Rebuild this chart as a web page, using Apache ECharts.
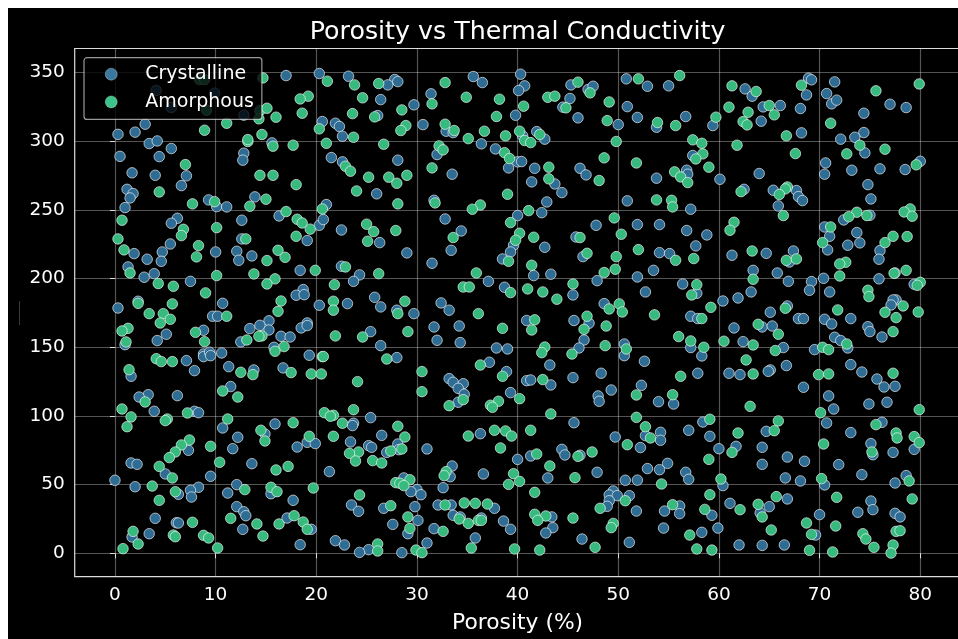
<!DOCTYPE html>
<html>
<head>
<meta charset="utf-8">
<title>Porosity vs Thermal Conductivity</title>
<script src="https://cdn.jsdelivr.net/npm/echarts@6/dist/echarts.min.js"></script>
<style>
html,body{background:#fff;margin:0;padding:0;width:958px;height:639px;overflow:hidden;}
#chart{position:absolute;left:8px;top:8px;width:950px;height:631px;background:#000;}
</style>
</head>
<body>
<div id="chart"></div>
<script>
const xTicks = [0,10,20,30,40,50,60,70,80];
const yTicks = [0,50,100,150,200,250,300,350];
const seriesNames = ['Crystalline','Amorphous'];

const crystalline = [
[17.0,347.8],[20.3,349.3],[4.1,337],[9.9,335],[5.6,324.5],[12.8,319],[3.0,312.4],[0.3,305],[2.0,306.6],[3.4,298.3],[4.2,300.2],[5.6,294.7],[0.5,289],[4.4,288.8],[12.8,291.3],[12.7,286.2],[15.6,298.8],[1.7,277],[4.0,275.2],[7.1,274.8],[6.6,267.7],[1.2,265],[1.8,261.9],[1.5,258.7],[1.0,251.7],[9.3,257.3],[10.1,252.4],[11.1,252.2],[13.9,259.5],[16.3,245.6],[6.2,243.9],[5.6,240.3],[12.6,242.5],[12.6,228.9],[19.1,227.7],[5.5,225.2],[4.7,219.4],[1.9,218.2],[3.2,214.1],[4.6,212.6],[10,219.4],[12.1,219.9],[12.3,213.3],[13.6,216.5],[1.3,208.5],[2.9,201],[3.9,203.6],[7.5,198],[18.4,206],[18.7,192],[18,187.9],[18.8,188.3],[0.3,178.6],[2.3,183.5],[10.7,182],[9.7,172.6],[10.2,172.6],[15.3,169.3],[20.3,180.6],[19.1,167.7],[20.3,238.8],
[8.8,162.4],[13.4,163.6],[14.4,166],[15.3,162.6],[18.5,164.1],[19.1,165.8],[5.1,159.5],[4.2,154.9],[16.5,158],[17.4,157.5],[12.5,153.9],[15.8,150],[1,151.9],[8.8,145.1],[8.8,143.2],[9.4,146.4],[9.5,143.9],[10.6,145.9],[19.3,144.2],[7.1,140.3],[7.9,133],[11.3,135.9],[13.8,133.5],[16.7,135],[1.6,128.9],[11.5,121.4],[3.3,115.5],[2.4,113.8],[6.2,114.8],[3.9,103.4],[7.9,103.4],[8.3,102.4],[15.9,94.2],[10.7,91.3],[14.9,86.9],[12.2,84.5],[19.1,80.8],[19.9,79.9],[18.1,77.4],[11.7,76.2],[7.3,75],[1.6,65.8],[2.2,64.8],[13.6,65.3],[5,57.8],[9.5,56.1],[0,53.2],[2,48.5],[12.1,50],[8.3,48.1],[7.5,45.9],[6.3,43],[7.6,41],[11.2,43.9],[15.5,43.4],[17.7,38.6],[12.1,34],[12.8,30.3],[13,27.4],[17.1,25.7],[4,25.5],[6.1,22.3],[6.3,22.1],[12.7,17.5],[19.5,17.5],[3.4,14.3],[1.7,11.9],[18.4,6.3],
[23.2,347.3],[27.8,344.9],[28.1,343.4],[27.1,341],[35.6,347.1],[36.5,342.7],[40.3,348.8],[40.7,340.3],[40.1,336.9],[31.4,334.5],[26.4,330.3],[29.7,326.5],[26.1,318.7],[20.6,314.3],[21.9,313.1],[22.3,310.7],[22.6,303.6],[30.6,312.1],[32.9,307.3],[33.6,306.3],[39.8,318.9],[45.3,341],[47,337.6],[47.5,340],[45.2,331.1],[44.5,324.8],[46,317],[50.8,345.4],[50.9,325.2],[51.9,317.3],[50,312.1],[41.9,307],[40.5,303.9],[42.7,301.5],[36.4,298.1],[37.8,294.4],[21.5,288.1],[22.6,285],[28.1,286.2],[32,290.3],[39.1,280.6],[40,285],[40.4,285.2],[41.7,280.3],[46.2,280.3],[46.8,275.5],[33.5,276],[41.4,270.4],[43.7,268.9],[44.4,262.6],[26,261.7],[31.7,257],[21,253.9],[42.9,255.8],[50.9,256.6],[42.4,248],[40,245.9],[32.8,243.4],[20.7,243],[22.5,235.4],[34.4,234.7],[47.8,238.8],[51.9,239.3],[45.8,230.3],[26.3,226.2],[42.7,222.8],[39.6,224.3],[39.3,219.4],[38.5,214.3],[29,218.7],[33.4,220.6],[46.5,216],[31.5,211.2],[22.5,209],[24.3,202.7],[23.7,198],[41.6,202.2],[43.3,203.2],[37.1,198],[47.9,198.5],[51.9,201.2],[38.7,193.7],[45.5,188.1],[25.8,186.4],[23.1,181.8],[26.4,179.4],[32.4,182.3],[33.2,177],[48.6,181.8],[28,177],[29.7,174.5],
[25.4,161.4],[31.7,164.8],[34.2,165.5],[40.9,169.5],[45.6,169.5],[47.1,167.5],[26.4,151.2],[32,155.1],[34.3,153.4],[46.6,155.3],[37.9,149.5],[39,148.8],[46.1,149.5],[50.6,152.4],[50.6,143.9],[28,142.5],[37.2,139.1],[43.2,137.1],[38.9,132.3],[48.3,131.1],[33.2,127.2],[33.6,124.5],[34.6,123.5],[34.1,120.1],[34.7,115.8],[34.1,110],[40.9,125.7],[41.3,126.2],[43.3,122.6],[45.5,127.9],[49.3,118.9],[39.3,117],[48,114.6],[48.1,110.7],[52.3,122.3],[25.4,98.8],[23.7,94.7],[23.6,93],[45.6,95.1],[36.3,87.1],[26.5,85.9],[49.7,84.7],[23.4,81.1],[25.2,78.4],[25.5,77.2],[28.1,79.6],[28.2,75.5],[27,73.5],[31,76],[44.4,75.7],[44.7,71.6],[46.2,71.4],[52.2,77],[41.3,70.9],[40,68.4],[33.5,63.6],[33.3,55.8],[36.6,57.8],[43,54.9],[47.9,59],[21.3,59.5],[28.7,54.9],[50.7,53.2],[51.9,53.3],[32.6,47.8],[30,46.4],[29.4,44.9],[30.4,42.7],[49.5,45.4],[49.1,42.5],[49.9,42],[51.1,42],[49.1,38.3],[29.8,34],[23.5,35.2],[24.2,30.6],[26.7,32.8],[32.1,35.2],[33.4,35.2],[37.7,32.8],[48.9,34.2],[51.8,30.8],[33.6,27.7],[34.3,26.5],[36.4,25.7],[30.1,24],[27.6,21.1],[38.6,23.5],[43.4,26.5],[43.5,18.7],[42.8,14.8],[39.3,17.5],[31.7,18],[29.1,14.3],[35.8,11.2],[46.4,10.4],[51.1,8],[21.9,9.2],[22.8,6.1],[31,7.5],[25.2,2.7],[24.3,0.7],[28.5,0.5],
[52.9,340],[55,340.3],[62.6,338.1],[63.3,332.8],[68.9,345.9],[69.2,344.7],[71.5,343.2],[70.7,334.7],[68.7,333.7],[71.2,327.2],[71.7,329.9],[64.4,325],[66.1,326],[68.1,323.8],[77,326.9],[78.6,324.5],[74.4,320.4],[56.7,318],[64.2,314.6],[59.4,311.4],[53.8,310.2],[68.2,306.1],[74.4,306.3],[73.5,302.9],[72.1,301.5],[74.5,291.5],[57.4,289.6],[80,285.4],[70.6,284.2],[56.8,278.9],[56.9,276],[73.2,278.9],[76,279.9],[78.5,279.4],[70.5,276],[64,276.5],[53.8,273.1],[60.1,272.3],[74.8,268.4],[62.5,265],[65.4,264.3],[67.7,264.1],[67.9,259.7],[68.3,256.8],[75.1,258],[65.9,252.9],[57.2,250.5],[75,246.1],[72.4,242.7],[54.1,239.3],[70.5,237.6],[56.8,235],[73.7,233.5],[58.8,231.8],[71,230.8],[57.7,223.8],[72.8,224.3],[74,226],[70.8,220.9],[76,220.4],[67.4,220.1],[54.1,218.9],[55.1,218.2],[61.3,217],[64.7,218.4],[75.9,214.1],[67,212.1],[53.5,206],[63.4,206],[65.8,204.1],[77.5,204.1],[70.4,200.2],[75.9,199.8],[66.9,198],[69.2,197.8],[56.4,196.1],[52.7,190.3],[69,191.5],[71,190.3],[57.8,189.3],[63.2,190.3],[61.9,185.9],[60.4,183.7],[77.6,184.5],[77.3,184.5],[77.1,180.8],[79.4,195.9],[66.8,180.1],[65.1,175.5],[67.9,170.9],[68.4,170.9],[70.5,170.4],[73.1,170.9],[57.2,172.6],[57.9,170.9],
[61.5,164.1],[64.3,164.8],[65.3,165.5],[71.2,167],[74.8,165],[75,161.4],[76.2,157.5],[71.5,157.3],[72.1,154.9],[72.8,149.5],[62.4,154.1],[66.4,149.8],[57.2,149.8],[69.5,148.3],[58.3,143.7],[52.6,139.8],[66.7,136.7],[73.1,137.4],[61,131.1],[62.1,130.1],[57.9,131.1],[65.1,133.5],[64.9,132.5],[74.2,132],[75.7,126.9],[76.4,121.1],[77.5,121.6],[68.4,120.9],[70.9,114.6],[54,110.4],[55.5,108.7],[74.9,108.7],[76.7,110],[71.4,105.1],[70.7,94.9],[76.2,95.4],[58.4,95.6],[57,89.6],[54.2,88.1],[52.7,85.7],[54.2,82.3],[59.1,85.2],[64.7,88.8],[73.1,87.9],[75.1,79.9],[60,76.2],[61.7,77.9],[64.3,77.2],[79.4,75.7],[77.3,73.5],[75.3,71.8],[66.8,70.1],[68.5,67],[71.9,64.6],[64.3,64.8],[54.9,65.5],[52.9,61.7],[54.1,60.9],[56.7,59],[57,53.9],[66.6,54.9],[68.1,52.7],[74.2,57.3],[78.6,56.6],[77.5,51.2],[70.5,49.8],[60.4,49.3],[66.8,39.6],[61.1,36.4],[75.1,38.1],[56.1,34.5],[65,34],[54.6,30.8],[56.1,28.9],[64.1,29.4],[59.3,27.7],[70,28.2],[73.8,29.9],[75.3,31.8],[77.5,29.1],[78,26.5],[54.5,18.4],[59.9,18.4],[58.3,15.3],[69.6,13.3],[62,6.1],[64.3,5.8],[66.5,6.1]
];

const amorphous = [
[8.4,344.9],[8.9,344.9],[14.7,346.1],[19.2,332.8],[18.4,330.8],[9.1,322.6],[14.4,322.3],[15.1,324],[16,317.5],[18.6,320.4],[14.3,316.3],[11.1,313.1],[8.9,308],[14.6,304.9],[20.3,309],[13.2,299.8],[13.2,301.2],[15.7,296.4],[17.7,297.1],[7,283],[14.4,275.2],[15.7,275.2],[18,268.4],[4.4,263.1],[7.7,254.4],[9.9,256],[13.4,252.7],[15,257.8],[17,248.8],[20.6,250.7],[18.1,243.2],[18.6,240.5],[19.4,236],[0.7,242.5],[6.8,235.9],[6.6,231.3],[10.1,237.1],[13,228.9],[18,230.8],[0.3,228.9],[0.9,220.9],[8.3,224],[8.1,215.8],[15.1,213.1],[16.2,220.6],[16.9,215.5],[19.9,206],[1.5,204.1],[10.1,202.2],[13.8,203.4],[15.9,199.8],[15.1,196.1],[4.3,196.4],[5.8,194.4],[9,189.6],[16.5,183.7],[2.3,182],[5.7,181.6],[16.2,176.2],[3.4,174.5],[4.8,174.5],[5.5,170.4],[11.1,172.6],
[1.3,163.8],[0.7,161.9],[4.5,167.7],[8,160.9],[14.6,158.3],[14.3,158],[13.1,155.3],[1.1,153.9],[8.9,154.1],[16.8,150.5],[15.9,147.1],[4.1,141.7],[4.6,139.6],[5.7,139.6],[12.5,131.8],[17.5,131.6],[19.5,130.6],[20.5,130.6],[20.6,143.2],[1.4,133.7],[13.7,130.1],[10.7,118.2],[12.2,113.8],[3,110.2],[0.7,105.1],[7.2,102.2],[1.6,99.3],[5.2,97.8],[5.0,96.6],[11.2,97.8],[17.7,95.1],[1.2,92.2],[14.5,89.6],[14.9,81.8],[19.3,85.2],[7.4,82.5],[6.6,78.9],[9.5,77.9],[6,73.8],[5.4,69.7],[10.4,66.3],[17.2,63.3],[4.4,63.3],[16,60.7],[5.7,54.9],[3.7,49],[15.5,48.1],[19.7,47.6],[12.9,46.4],[6,44.9],[16.1,44.9],[4.4,38.6],[17.8,27.4],[11.5,25.5],[18.7,22.8],[7.7,22.6],[14.1,21.4],[16.3,21.4],[19.1,17.5],[1.8,16],[5.8,13.3],[6,12.1],[8.8,13.1],[9.3,11.2],[14.7,12.6],[2.3,6.8],[0.8,3.4],[10.2,3.9],
[21.1,343.7],[23.8,341],[26.2,342],[32.8,342.7],[46,343],[47.2,335.2],[24.6,331.6],[34.9,332],[38.2,330.6],[43,332],[43.7,332.8],[31.5,327.2],[40.6,325.5],[44.8,324.3],[49.1,328.6],[28.5,322.8],[23.6,320.1],[25.8,317.7],[37.9,318],[48.9,315],[32.8,312.4],[28.9,311.4],[28.4,307.8],[33.7,307.8],[40.2,307.3],[23.7,302.9],[36.7,307.3],[38.8,303.9],[35.1,301.9],[42.2,304.9],[40.7,300.5],[41.3,299],[49.8,299.8],[21,298.5],[26.7,297.8],[32.2,296.6],[32.6,293.7],[38.7,291.7],[39.2,287.4],[48.6,287.9],[51.8,284.2],[22.9,281.8],[23.4,278.2],[31.5,280.6],[43.1,281.1],[25.2,273.8],[27.2,273.8],[28,269.4],[29,275.2],[43.1,272.6],[48.1,271.4],[24,263.8],[39,261.4],[28.1,254.4],[31.8,255.1],[36.3,253.6],[35.5,250.5],[41.1,249.5],[39.3,240.8],[49.6,244.2],[25,239.6],[25.7,234.2],[27.9,235],[40.2,233],[41.6,230.1],[50.3,232.3],[33.6,229.9],[39.8,227.9],[46.2,229.9],[25.1,227.2],[52,221.1],[46.9,218.4],[49.8,216],[39.1,212.6],[22.9,208.5],[41.4,209.7],[26.2,203.6],[35.9,204.1],[49.7,206.8],[48.6,204.4],[21.8,195.6],[45.5,196.1],[34.6,193.9],[35.2,193.9],[41,192.5],[39.3,189.8],[42.5,190.3],[43.9,185],[28.8,183.5],[21.7,183.5],[21.7,177],[50.1,181.6],[49.1,177.9],[50.4,175.7],[28.1,174.5],[36.1,174.5],[41.7,170],[46.9,172.6],
[29.1,161.4],[21.9,158.3],[24.6,157.5],[38.5,163.8],[41.4,162.6],[46.6,163.1],[48.8,165.5],[48.7,151.2],[50.8,148.8],[42.7,150.2],[42.4,146.1],[45.4,145.1],[20.7,143.3],[27,141.5],[36.3,137.1],[30.5,132.3],[38.5,128.9],[42.5,126.5],[24.1,125],[30.5,117.7],[51.8,115.3],[40.2,112.6],[38.1,110.7],[37.3,107.8],[37.5,106.3],[33.2,107.5],[34.6,111.9],[23.7,104.6],[43.3,101.5],[20.8,102.4],[21.7,100.5],[21.4,99.8],[51.8,99],[22.6,94.7],[28.1,92.5],[37.7,89.6],[38.8,89.1],[41.3,89.6],[39.4,85.4],[28.8,84.7],[35.1,85.4],[21.7,85.2],[50.9,79.1],[28.5,76],[27.4,74.5],[24.2,73.8],[23.3,72.8],[38.3,76.7],[47.4,73.8],[41.9,72.3],[46,70.6],[23.9,67.2],[25.6,67.5],[26.5,65.8],[43.2,63.6],[32.9,59.5],[32.7,56.6],[39.6,58],[45.7,55.1],[29.3,53.6],[40.2,52.4],[27.9,51.5],[28.3,51],[28.7,49.3],[39.1,50.2],[41.7,44.4],[24.3,42.5],[50.7,38.3],[34.7,36.7],[32.8,35.2],[35.8,36.4],[37,35.9],[27.4,34.7],[48.2,32.8],[41.7,28.4],[42.8,27.2],[29.1,26.5],[45.5,25.7],[42,24],[34.2,25],[35.1,21.8],[36.1,24],[36.4,24],[49.5,21.8],[49.3,18.7],[29.3,18.2],[32.6,16],[26.1,6.8],[26.1,1.7],[29.9,2.4],[30.5,0.5],[35.4,3.9],[39.7,3.2],[42.2,2.4],[47.7,4.4],
[52,345.4],[56.1,347.8],[61.3,340.3],[63.7,336.2],[68.2,340.8],[79.9,341.7],[75.6,336.7],[61,324.8],[65,326],[65.5,319.2],[62.9,321.1],[62.4,314.3],[62.8,311.9],[59.7,317.5],[53.9,313.6],[55.7,311.4],[71.1,313.1],[66.7,303.9],[57.4,301],[58.3,298.5],[61.8,297.1],[74,297.1],[76.5,294.2],[58.4,290.8],[67.6,291],[72.7,290.8],[57.7,287.1],[79.6,282.8],[59,281.1],[55.6,277.7],[56.2,274],[56.9,269.9],[66.8,266.7],[66.6,265.3],[66,261.2],[62.2,263.3],[53.8,257.3],[55.3,257],[55.4,252.2],[79,250.7],[78.4,248.5],[79.2,245.4],[73.7,248.3],[72.9,245.1],[74.7,245.9],[66.4,245.9],[61.5,241],[61.1,235.2],[71.1,237.6],[77.3,230.8],[78.7,230.6],[76.5,226.2],[70.3,226.2],[63.3,220.1],[55.7,213.3],[57.5,214.6],[66.7,213.3],[67.7,214.3],[72.6,211.9],[72,210.7],[78.6,206],[77.4,203.9],[72,201.9],[63.4,199.5],[57.8,195.6],[80,197.3],[79.7,195.1],[74.8,191.5],[57.3,188.1],[74.9,186.9],[78.3,180.1],[59.2,179.1],[66.6,178.4],[71.8,177.2],[76.5,175.5],[79.8,175.7],[53.6,173.6],[77.6,171.6],[58.3,170.9],
[56,157.8],[57.2,154.6],[60.5,154.4],[63.4,151.7],[65.9,159.5],[63.9,166.7],[58.5,150],[65.6,147.6],[70.3,150],[70.9,148.3],[72.7,152.4],[77.3,161.4],[62.7,140.8],[56.2,128.9],[63.4,130.6],[69.9,130.1],[70.9,130.6],[77.3,131.1],[55.4,115.5],[63.1,107],[79.9,104.6],[70.1,102.4],[59.1,97.6],[65.9,96.4],[75.6,93.7],[52.7,92.2],[65.5,89.3],[61.9,87.6],[77.6,87.6],[53.2,84],[77.7,84],[79.4,85],[79.9,80.6],[70.4,79.6],[61.3,73.5],[75.2,73.8],[59,68.4],[60.2,54.1],[70.2,54.4],[78.9,52.7],[54.3,50.5],[59.1,42.7],[65.7,41.3],[71.7,40.8],[79.2,39.6],[55.4,35.4],[63.9,35.7],[58.6,32],[62.1,31.8],[64.3,26.5],[68.7,22.1],[71.6,19.9],[65.2,17],[57.1,13.3],[69.2,13.8],[77.6,16],[78,16.5],[74.3,14.3],[74.6,10.4],[57.8,3.2],[59.3,2.4],[69,2.2],[71.3,1],[75.4,4.4],[77.3,6.1],[77.1,0.2]
];

const chart = echarts.init(document.getElementById('chart'), null, {renderer:'canvas', width:950, height:631});
const font = '"DejaVu Sans"';
const pointStyle = c => ({color:c, borderColor:'rgba(255,255,255,0.78)', borderWidth:0.8, opacity:1});
chart.setOption({
  animation:false,
  backgroundColor:'#000',
  title:{text:'Porosity vs Thermal Conductivity', left:509.6, top:12, padding:0, textAlign:'center',
    textStyle:{color:'#fff', fontFamily:font, fontSize:25.3, fontWeight:'normal'}},
  legend:{
    left:76, top:49.7, orient:'vertical', align:'left',
    padding:[7,8,8,21], itemWidth:24, itemHeight:12, itemGap:8.7,
    backgroundColor:'rgba(0,0,0,0.8)', borderColor:'rgba(255,255,255,0.6)', borderWidth:1.2, borderRadius:3,
    textStyle:{color:'#fff', fontFamily:font, fontSize:19, padding:[0,0,0,17]},
    itemStyle:{borderWidth:0.5, borderColor:'rgba(255,255,255,0.6)'},
    data:[
      {name:seriesNames[0], itemStyle:{color:'#3A789F'}},
      {name:seriesNames[1], itemStyle:{color:'#3CC38A'}}
    ]
  },
  grid:{left:66.7, top:40.5, width:885.8, height:528.2, show:true, borderColor:'#ddd', borderWidth:1.2, backgroundColor:'#000', outerBoundsMode:'none', containLabel:false},
  xAxis:{type:'value', min:-4, max:84, name:'Porosity (%)', nameLocation:'middle', nameGap:36,
    nameTextStyle:{color:'#fff', fontFamily:font, fontSize:21.8},
    axisLine:{show:false},
    axisTick:{show:true, length:5, customValues:xTicks, lineStyle:{color:'#ddd', width:1}},
    axisLabel:{color:'#fff', fontFamily:font, fontSize:18.5, margin:9, customValues:xTicks},
    splitLine:{show:true, lineStyle:{color:'rgba(255,255,255,0.33)', width:1.2}}},
  yAxis:{type:'value', min:-17, max:367.5,
    axisLine:{show:false},
    axisTick:{show:true, length:5, customValues:yTicks, lineStyle:{color:'#ddd', width:1}},
    axisLabel:{color:'#fff', fontFamily:font, fontSize:18.5, margin:10, padding:[3,0,0,0], customValues:yTicks},
    splitLine:{show:true, lineStyle:{color:'rgba(255,255,255,0.33)', width:1.2}}},
  series:[
    {name:seriesNames[0], type:'scatter', data:crystalline, symbolSize:10.5, itemStyle:pointStyle('#2F6C94')},
    {name:seriesNames[1], type:'scatter', data:amorphous, symbolSize:10.5, itemStyle:pointStyle('#36BA7E')}
  ],
  graphic:[{type:'rect', shape:{x:11, y:293, width:1, height:24}, style:{fill:'#3a3a3a'}, silent:true}]
});
</script>
</body>
</html>
